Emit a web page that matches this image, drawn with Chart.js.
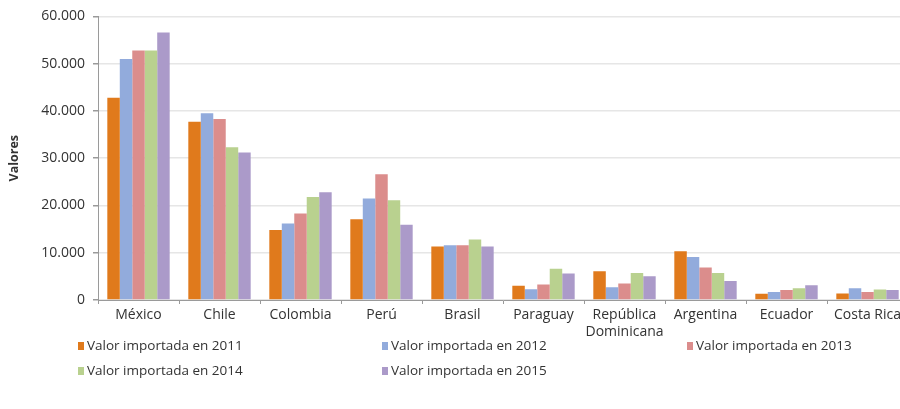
<!DOCTYPE html>
<html>
<head>
<meta charset="utf-8">
<script src="https://cdn.jsdelivr.net/npm/chart.js@4"></script>
<style>
  html, body { margin: 0; padding: 0; background: #fff; overflow: hidden; width: 900px; height: 409px; }
  #wrap { position: relative; width: 910px; height: 340px; }
  #legend {
    position: absolute; left: 78px; top: 336px;
    display: grid; grid-template-columns: 304px 305px 220px; row-gap: 7px;
    font-family: "Open Sans", sans-serif; font-size: 13.5px; color: #333;
  }
  #legend span.box { display: inline-block; width: 6px; height: 8px; margin-right: 3px; }
</style>
</head>
<body>
<div id="wrap"><canvas id="chart" width="910" height="340"></canvas></div>
<div id="legend"></div>
<script>
// categories and values
const paises = ['México', 'Chile', 'Colombia', 'Perú', 'Brasil', 'Paraguay', ['República', 'Dominicana'], 'Argentina', 'Ecuador', 'Costa Rica']
const v2011 = [42800, 37700, 14800, 17100, 11300, 3000, 6100, 10300, 1300, 1400]
const v2012 = [51000, 39500, 16200, 21500, 11600, 2300, 2700, 9100, 1700, 2500]
const v2013 = [52800, 38300, 18300, 26600, 11600, 3300, 3500, 6900, 2100, 1700]
const v2014 = [52800, 32300, 21800, 21100, 12800, 6600, 5700, 5700, 2500, 2200]
const v2015 = [56600, 31200, 22800, 15900, 11300, 5600, 5000, 4000, 3100, 2100]
const series = ['Valor importada en 2011', 'Valor importada en 2012', 'Valor importada en 2013', 'Valor importada en 2014', 'Valor importada en 2015']
const colores = ['#e07a1c', '#92abdc', '#db8d8c', '#b9d18f', '#ab9ac9']
const yTicks = [0, 10000, 20000, 30000, 40000, 50000, 60000]

const valores = [v2011, v2012, v2013, v2014, v2015]

const config = {
  type: 'bar',
  data: {
    labels: paises,
    datasets: series.map((s, i) => ({
      label: s,
      data: valores[i],
      backgroundColor: colores[i],
      borderWidth: 0,
      categoryPercentage: 0.77,
      barPercentage: 1.0,
    })),
  },
  options: {
    responsive: false,
    animation: false,
    layout: { padding: { top: 14, right: 2, left: 0, bottom: 0 } },
    plugins: {
      legend: { display: false },
      tooltip: { enabled: false },
    },
    scales: {
      x: {
        grid: { offset: true, drawOnChartArea: false, color: '#9a9a9a', tickLength: 4 },
        border: { color: '#9a9a9a' },
        ticks: {
          font: { family: 'Open Sans', size: 14 },
          color: '#333',
          maxRotation: 0,
          autoSkip: false,
          padding: 3,
        },
        afterFit: (scale) => { scale.height = 40 },
      },
      y: {
        min: 0,
        max: 60000,
        afterBuildTicks: (scale) => { scale.ticks = yTicks.map(v => ({ value: v })) },
        grid: { color: '#e6e6e6', lineWidth: 1.5, drawTicks: true, tickLength: 5, tickColor: '#9a9a9a' },
        border: { color: '#9a9a9a' },
        ticks: {
          font: { family: 'Open Sans', size: 14 },
          color: '#333',
          padding: 8,
          callback: (v) => v.toLocaleString('de-DE'),
        },
        title: {
          display: true,
          text: 'Valores',
          font: { family: 'Open Sans', size: 12.5, weight: 'bold' },
          color: '#333',
          padding: { top: 7, bottom: 0 },
        },
        afterFit: (scale) => { scale.width = 98 },
      },
    },
  },
}

const chart = new Chart(document.getElementById('chart'), config)

// legend in three columns like the original
const legend = document.getElementById('legend')
chart.data.datasets.forEach(ds => {
  const item = document.createElement('div')
  item.innerHTML = '<span class="box" style="background:' + ds.backgroundColor + '"></span>' + ds.label
  legend.appendChild(item)
})
</script>
</body>
</html>
